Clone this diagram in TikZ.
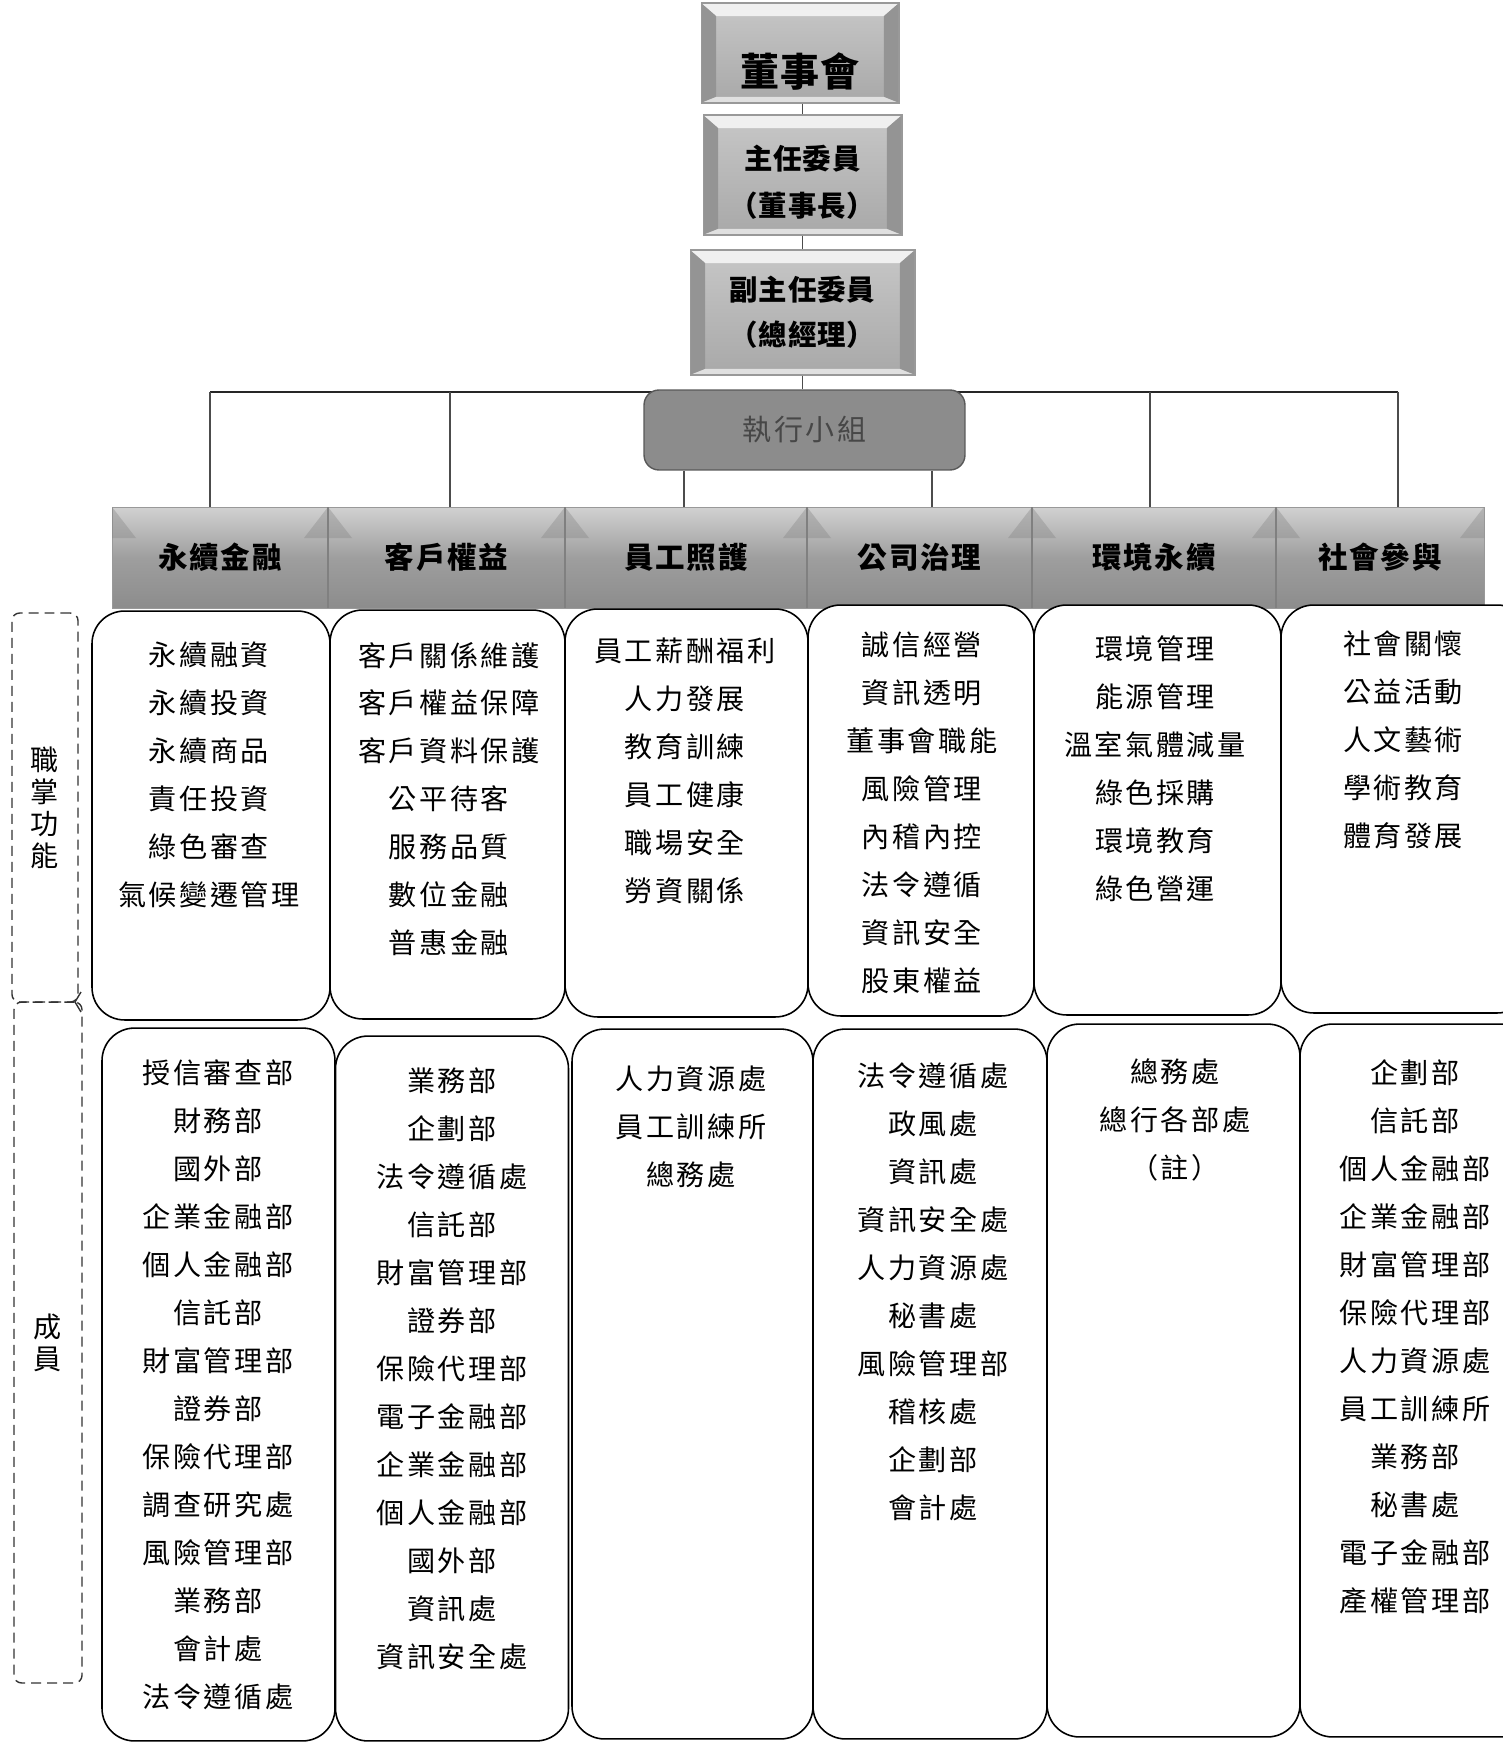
\documentclass[tikz,border=0pt]{standalone}
\usepackage{fontspec}
\newfontfamily\bodyfont[LetterSpace=9]{Noto Sans CJK TC}
\newfontfamily\headfont[LetterSpace=6]{Noto Sans CJK TC}
\newfontfamily\topfont[LetterSpace=3]{Noto Sans CJK TC}

\tikzset{
  topbox/.style={rectangle, draw=black!40, line width=0.6pt, top color=black!22, bottom color=black!34,
    align=center, inner sep=2pt,
    path picture={
      \fill[black!6] (path picture bounding box.north west) -- (path picture bounding box.north east)
        -- ([shift={(-0.3cm,-0.26cm)}]path picture bounding box.north east)
        -- ([shift={(0.3cm,-0.26cm)}]path picture bounding box.north west) -- cycle;
      \fill[black!42] (path picture bounding box.north west) -- ([shift={(0.3cm,-0.26cm)}]path picture bounding box.north west)
        -- ([shift={(0.3cm,0.12cm)}]path picture bounding box.south west) -- (path picture bounding box.south west) -- cycle;
      \fill[black!42] (path picture bounding box.north east) -- ([shift={(-0.3cm,-0.26cm)}]path picture bounding box.north east)
        -- ([shift={(-0.3cm,0.12cm)}]path picture bounding box.south east) -- (path picture bounding box.south east) -- cycle;
      \fill[black!12] (path picture bounding box.south west) -- ([shift={(0.3cm,0.12cm)}]path picture bounding box.south west)
        -- ([shift={(-0.3cm,0.12cm)}]path picture bounding box.south east) -- (path picture bounding box.south east) -- cycle;
    }},
  headbox/.style={rectangle, draw=black!40, line width=0.4pt, top color=black!18, bottom color=black!45,
    middle color=black!38, minimum height=2.02cm, inner sep=0pt,
    font=\headfont\bfseries\fontsize{16.8pt}{20pt}\selectfont},
  bodybox/.style={rectangle, draw=black, fill=white, line width=0.9pt, rounded corners=0.65cm, inner sep=0pt},
  bodytext/.style={align=center, inner sep=0pt, font=\bodyfont\fontsize{16pt}{27.3pt}\selectfont},
  sidebox/.style={rectangle, draw=black!80, line width=0.8pt, dash pattern=on 0.2cm off 0.12cm,
    rounded corners=0.15cm, align=center, inner sep=0pt, font=\bodyfont\fontsize{16pt}{18.2pt}\selectfont},
  link/.style={draw=black!70, line width=1pt},
  bus/.style={draw=black!85, line width=1.3pt},
  tent/.style={fill=black!50, opacity=0.35}
}

\begin{document}
\begin{tikzpicture}[x=0.02cm, y=-0.02cm]
  \useasboundingbox (0,0) rectangle (1503,1743);

  % Board and chairs
  \node[topbox, minimum width=3.96cm, minimum height=2cm, text height=1.35cm, text depth=0pt,
    font=\topfont\bfseries\fontsize{22.2pt}{26pt}\selectfont] (d1) at (800,53) {董事會};
  \node[topbox, minimum width=3.98cm, minimum height=2.4cm,
    font=\topfont\bfseries\fontsize{16.2pt}{26.5pt}\selectfont] (d2) at (802.5,175) {\rule{0pt}{0.78cm}主任委員\\（董事長）};
  \node[topbox, minimum width=4.5cm, minimum height=2.5cm,
    font=\topfont\bfseries\fontsize{16.2pt}{25.6pt}\selectfont] (d3) at (802.5,312.5) {副主任委員\\（總經理）};

  % Bus line
  \coordinate (b1) at (210,392);
  \coordinate (b2) at (450,392);
  \coordinate (b5) at (1150,392);
  \coordinate (b6) at (1398,392);
  \coordinate (e3) at (684,392);
  \coordinate (e4) at (932,392);
  \draw[bus] (b1) -- (b6);

  % Task force
  \node[rectangle, rounded corners=0.3cm, fill=black!45, draw=black!65, line width=0.8pt,
    minimum width=6.42cm, minimum height=1.6cm, text=black!72,
    font=\bodyfont\fontsize{16.5pt}{20pt}\selectfont] (ex) at (804.5,430) {執行小組};

  % Headers
  \node[headbox, minimum width=4.32cm] (h1) at (220,557.5) {永續金融};
  \node[headbox, minimum width=4.74cm] (h2) at (446.5,557.5) {客戶權益};
  \node[headbox, minimum width=4.84cm] (h3) at (686,557.5) {員工照護};
  \node[headbox, minimum width=4.50cm] (h4) at (919.5,557.5) {公司治理};
  \node[headbox, minimum width=4.88cm] (h5) at (1154,557.5) {環境永續};
  \node[headbox, minimum width=4.16cm] (h6) at (1380,557.5) {社會參與};
  \foreach \xj in {328,565,807,1032,1276} {
    \fill[tent] (\xj,507) -- (\xj+24,538) -- (\xj-24,538) -- cycle;
    \draw[black!50, line width=1pt] (\xj,507) -- (\xj,608);
  }
  \fill[tent] (112,507) -- (136,538) -- (112,538) -- cycle;
  \fill[tent] (1484,507) -- (1484,538) -- (1460,538) -- cycle;

  % Duties
  \node[bodybox, minimum width=4.76cm, minimum height=8.18cm] (f1) at (211,815.5) {};
  \node[bodybox, minimum width=4.70cm, minimum height=8.18cm] (f2) at (447.5,814.5) {};
  \node[bodybox, minimum width=4.86cm, minimum height=8.16cm] (f3) at (686.5,813) {};
  \node[bodybox, minimum width=4.52cm, minimum height=8.22cm] (f4) at (921,810.5) {};
  \node[bodybox, minimum width=4.94cm, minimum height=8.20cm] (f5) at (1157.5,810) {};
  \node[bodybox, minimum width=4.98cm, minimum height=8.16cm] (f6) at (1405.5,809) {};

  \node[bodytext] (f1t) at (209,775) {永續融資\\永續投資\\永續商品\\責任投資\\綠色審查\\氣候變遷管理};
  \node[bodytext] (f2t) at (449,799) {客戶關係維護\\客戶權益保障\\客戶資料保護\\公平待客\\服務品質\\數位金融\\普惠金融};
  \node[bodytext] (f3t) at (685,771) {員工薪酬福利\\人力發展\\教育訓練\\員工健康\\職場安全\\勞資關係};
  \node[bodytext] (f4t) at (922,813) {誠信經營\\資訊透明\\董事會職能\\風險管理\\內稽內控\\法令遵循\\資訊安全\\股東權益};
  \node[bodytext] (f5t) at (1155,769) {環境管理\\能源管理\\溫室氣體減量\\綠色採購\\環境教育\\綠色營運};
  \node[bodytext] (f6t) at (1403,740) {社會關懷\\公益活動\\人文藝術\\學術教育\\體育發展};

  % Members
  \node[bodybox, minimum width=4.66cm, minimum height=14.26cm] (m1) at (218.5,1384.5) {};
  \node[bodybox, minimum width=4.66cm, minimum height=14.10cm] (m2) at (452,1388.5) {};
  \node[bodybox, minimum width=4.82cm, minimum height=14.20cm] (m3) at (692.5,1384) {};
  \node[bodybox, minimum width=4.68cm, minimum height=14.20cm] (m4) at (930,1384) {};
  \node[bodybox, minimum width=5.06cm, minimum height=14.26cm] (m5) at (1173.5,1380.5) {};
  \node[bodybox, minimum width=4.80cm, minimum height=14.26cm] (m6) at (1420,1380.5) {};

  \node[bodytext] (m1t) at (218,1385) {授信審查部\\財務部\\國外部\\企業金融部\\個人金融部\\信託部\\財富管理部\\證券部\\保險代理部\\調查研究處\\風險管理部\\業務部\\會計處\\法令遵循處};
  \node[bodytext] (m2t) at (452,1369) {業務部\\企劃部\\法令遵循處\\信託部\\財富管理部\\證券部\\保險代理部\\電子金融部\\企業金融部\\個人金融部\\國外部\\資訊處\\資訊安全處};
  \node[bodytext] (m3t) at (691,1127) {人力資源處\\員工訓練所\\總務處};
  \node[bodytext] (m4t) at (933,1292) {法令遵循處\\政風處\\資訊處\\資訊安全處\\人力資源處\\秘書處\\風險管理部\\稽核處\\企劃部\\會計處};
  \node[bodytext] (m5t) at (1175,1120) {總務處\\總行各部處\\（註）};
  \node[bodytext] (m6t) at (1415,1337) {企劃部\\信託部\\個人金融部\\企業金融部\\財富管理部\\保險代理部\\人力資源處\\員工訓練所\\業務部\\秘書處\\電子金融部\\產權管理部};

  % Side labels
  \node[sidebox, minimum width=1.32cm, minimum height=7.78cm] (l1) at (45,807.5) {職\\掌\\功\\能};
  \node[sidebox, minimum width=1.36cm, minimum height=13.62cm] (l2) at (48,1342.5) {成\\員};
  \draw[black!80, line width=0.8pt] (81,992) -- (75,1002) -- (81,1012);

  % Links
  \draw[link] (d1.south -| d3.north) -- (d2.north -| d3.north);
  \draw[link] (d2.south -| d3.north) -- (d3.north);
  \draw[link] (d3.south) -- (d3.south |- ex.north);
  \foreach \b/\h in {b1/h1, b2/h2, b5/h5, b6/h6}
    \draw[link] (\b) -- (\b |- \h.north);
  \draw[link] (e3 |- ex.south) -- (e3 |- h3.north);
  \draw[link] (e4 |- ex.south) -- (e4 |- h4.north);
\end{tikzpicture}
\end{document}
